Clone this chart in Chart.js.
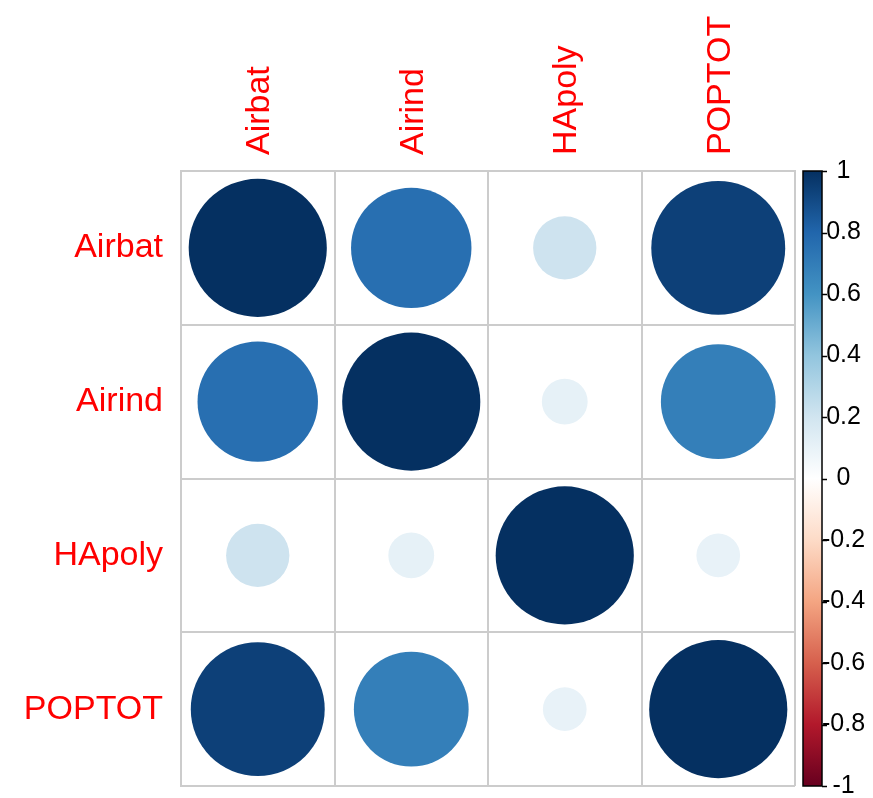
<!DOCTYPE html>
<html>
<head>
<meta charset="utf-8">
<script src="https://cdn.jsdelivr.net/npm/chart.js@4"></script>
<style>
  html, body { margin: 0; padding: 0; background: #fff; }
</style>
</head>
<body>
<canvas id="corr-chart" width="873" height="798"></canvas>
<script>
// variables and correlation rows
const vars = ['Airbat', 'Airind', 'HApoly', 'POPTOT'];
const airbat = [1, 0.76, 0.21, 0.94];
const airind = [0.76, 1, 0.11, 0.69];
const hapoly = [0.21, 0.11, 1, 0.10];
const poptot = [0.94, 0.69, 0.10, 1];
const corrRows = [airbat, airind, hapoly, poptot];

// legend ticks
const cbTicks = [1, 0.8, 0.6, 0.4, 0.2, 0, -0.2, -0.4, -0.6, -0.8, -1];

// RdBu palette, from -1 to 1
const palette = ['#67001F', '#B2182B', '#D6604D', '#F4A582', '#FDDBC7', '#FFFFFF',
                 '#D1E5F0', '#92C5DE', '#4393C3', '#2166AC', '#053061'];

const GRID = '#cccccc';
const FONT = "'Liberation Sans', Arial, sans-serif";

function hexToRgb(h) {
    return [1, 3, 5].map(i => parseInt(h.substr(i, 2), 16));
}

// 값 -> 색상 (팔레트 선형 보간)
function colorOf(v) {
    const t = (v + 1) / 2 * (palette.length - 1);
    const i = Math.min(Math.floor(t), palette.length - 2);
    const f = t - i;
    const a = hexToRgb(palette[i]);
    const b = hexToRgb(palette[i + 1]);
    const c = a.map((x, k) => Math.round(x + (b[k] - x) * f));
    return `rgb(${c[0]}, ${c[1]}, ${c[2]})`;
}

// 원 데이터 (r은 셀 크기를 알고 나서 채움)
function buildPoints(cell) {
    const pts = [];
    corrRows.forEach((row, i) => {
        row.forEach((v, j) => {
            pts.push({ x: vars[j], y: vars[i], v: v, r: Math.sqrt(Math.abs(v)) * cell * 0.45 });
        });
    });
    return pts;
}

// no-pad helper: keeps the grid filling the canvas
function noPad(s) {
    s.paddingTop = 0;
    s.paddingBottom = 0;
    s.paddingLeft = 0;
    s.paddingRight = 0;
}

// color legend bar on the right
const colorBar = {
    id: 'colorBar',
    afterDraw(chart) {
        const cb = chart.scales.cb;
        const ctx = chart.ctx;
        const x = chart.chartArea.right + 8;
        const w = 19;
        const top = cb.getPixelForValue(1);
        const bottom = cb.getPixelForValue(-1);
        const grad = ctx.createLinearGradient(0, bottom, 0, top);
        palette.forEach((c, i) => grad.addColorStop(i / (palette.length - 1), c));
        ctx.save();
        ctx.fillStyle = grad;
        ctx.fillRect(x, top, w, bottom - top);
        ctx.strokeStyle = '#000';
        ctx.lineWidth = 1.5;
        ctx.strokeRect(x, top, w, bottom - top);
        cbTicks.forEach(v => {
            const y = Math.round(cb.getPixelForValue(v)) + 0.5;
            ctx.beginPath();
            ctx.moveTo(x + w, y);
            ctx.lineTo(x + w + 5, y);
            ctx.stroke();
        });
        ctx.restore();
    }
};

const ctx = document.getElementById('corr-chart').getContext('2d');
const chart = new Chart(ctx, {
    type: 'bubble',
    data: {
        datasets: [{
            data: buildPoints(0),
            backgroundColor: c => (c.raw ? colorOf(c.raw.v) : '#053061'),
            borderWidth: 0,
            clip: false
        }]
    },
    options: {
        responsive: false,
        animation: false,
        layout: { autoPadding: false, padding: { left: 0, right: 0, top: 0, bottom: 12 } },
        plugins: {
            legend: { display: false },
            tooltip: { enabled: false }
        },
        scales: {
            x: {
                type: 'category',
                labels: vars,
                position: 'top',
                offset: true,
                grid: { offset: true, color: GRID, lineWidth: 2, drawTicks: false },
                border: { color: GRID, width: 2 },
                ticks: {
                    color: '#ff0000',
                    font: { family: FONT, size: 34 },
                    padding: 16,
                    labelOffset: 43,
                    minRotation: 90,
                    maxRotation: 90,
                    autoSkip: false
                },
                afterFit: s => { s.height = 171; noPad(s); }
            },
            y: {
                type: 'category',
                labels: vars,
                offset: true,
                grid: { offset: true, color: GRID, lineWidth: 2, drawTicks: false },
                border: { color: GRID, width: 2 },
                ticks: {
                    color: '#ff0000',
                    font: { family: FONT, size: 34 },
                    padding: 18,
                    autoSkip: false
                },
                afterFit: s => { s.width = 181; noPad(s); }
            },
            cb: {
                type: 'linear',
                position: 'right',
                min: -1,
                max: 1,
                grid: { display: false, drawTicks: false },
                border: { display: false },
                afterBuildTicks: s => { s.ticks = cbTicks.map(v => ({ value: v })); },
                ticks: {
                    color: '#000',
                    font: { family: FONT, size: 25 },
                    crossAlign: 'center',
                    padding: 27,
                    callback: v => String(v)
                },
                afterFit: s => { s.width = 78; noPad(s); }
            }
        }
    },
    plugins: [colorBar]
});

// 셀 크기(px)를 x축에서 읽어 원 반지름 설정
const xs = chart.scales.x;
const cell = Math.abs(xs.getPixelForValue(1) - xs.getPixelForValue(0));
chart.data.datasets[0].data = buildPoints(cell);
chart.update();
</script>
</body>
</html>
